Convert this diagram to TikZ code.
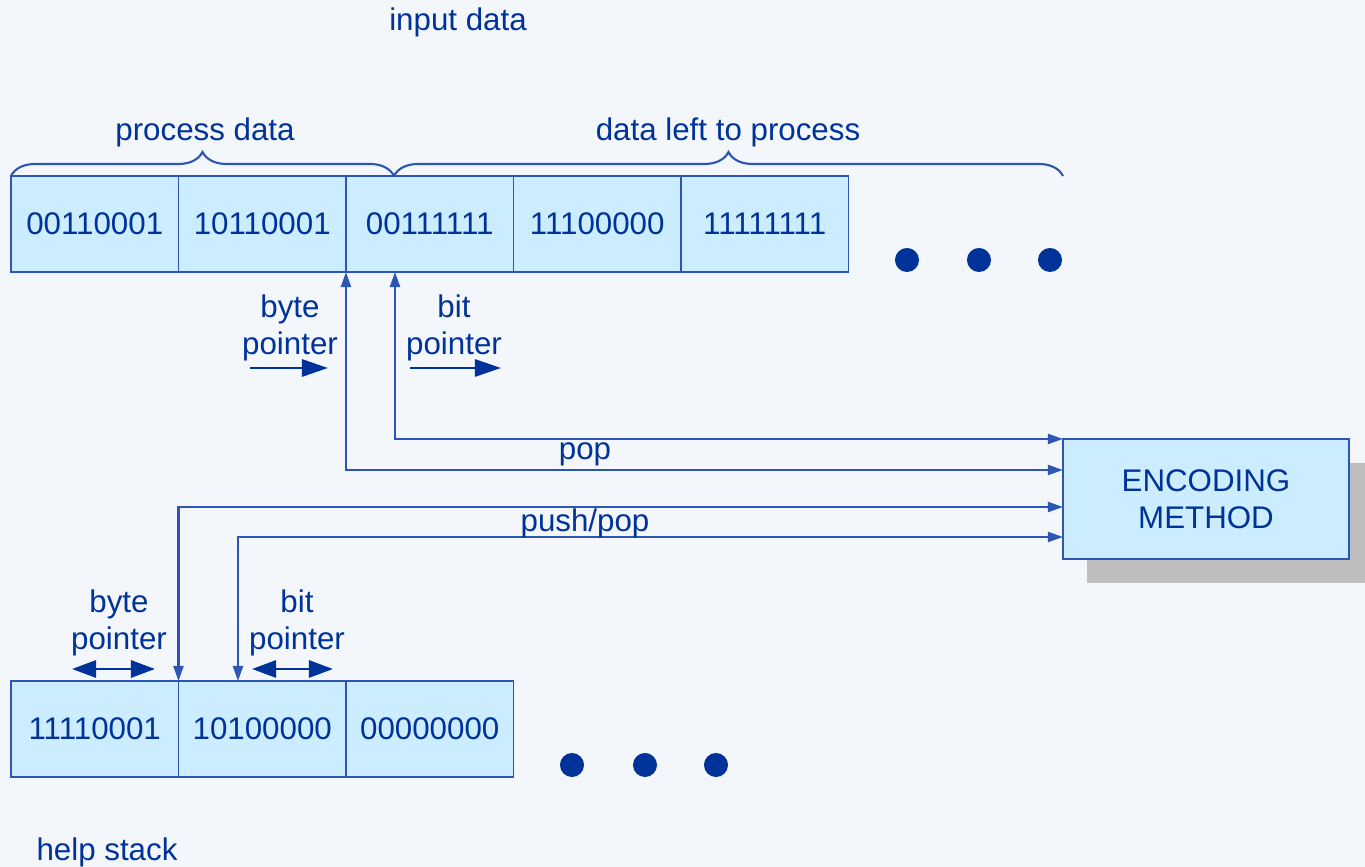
\documentclass[tikz,border=0pt]{standalone}
\usepackage{fontspec}
\setmainfont{Liberation Sans}
\usetikzlibrary{positioning,arrows.meta,decorations.pathreplacing,shadows}

\definecolor{inkblue}{RGB}{0,51,153}
\definecolor{cellblue}{RGB}{204,236,255}
\definecolor{lineblue}{RGB}{45,85,180}
\definecolor{paper}{RGB}{243,246,250}
\definecolor{shadowgray}{RGB}{190,190,190}

\begin{document}
\begin{tikzpicture}[
        x=0.01cm, y=-0.01cm,
        font=\fontsize{8.9}{10.6}\selectfont,
        text=inkblue,
        cell/.style={
            draw=lineblue, fill=cellblue,
            minimum width=1.674cm, minimum height=0.96cm,
            inner sep=0pt, outer sep=0pt
        },
        enc box/.style={
            draw=lineblue, fill=cellblue, align=center,
            minimum width=2.86cm, minimum height=1.2cm,
            inner sep=0pt, outer sep=0pt,
            drop shadow={shadow xshift=0.24cm, shadow yshift=-0.24cm,
                fill=shadowgray, opacity=1}
        },
        caption/.style={align=center, inner sep=0pt},
        dot/.style={circle, fill=inkblue, minimum size=0.24cm, inner sep=0pt},
        brace/.style={draw=lineblue, line width=0.6pt,
            decorate, decoration={brace, amplitude=0.24cm}},
        wire/.style={draw=lineblue, line width=0.6pt,
            {Triangle[length=0.15cm,width=0.1cm]}-{Triangle[length=0.15cm,width=0.1cm]}},
        move/.style={draw=inkblue, line width=0.8pt,
            -{Triangle[length=0.26cm,width=0.17cm]}},
        move both/.style={draw=inkblue, line width=0.8pt,
            {Triangle[length=0.24cm,width=0.17cm]}-{Triangle[length=0.24cm,width=0.17cm]}}
    ]

    \fill[paper] (0,0) rectangle (1365,867);
    \useasboundingbox (0,0) rectangle (1365,867);

    \node[caption] (input) at (458,22) {input data};

    \node[cell, anchor=north west] (in1) at (11,176) {00110001};
    \node[cell, right=0pt of in1] (in2) {10110001};
    \node[cell, right=0pt of in2] (in3) {00111111};
    \node[cell, right=0pt of in3] (in4) {11100000};
    \node[cell, right=0pt of in4] (in5) {11111111};

    \foreach \x [count=\i] in {907,979,1050}
        \node[dot] (indot\i) at (\x,260) {};

    \coordinate (split) at (394,176);
    \coordinate (restend) at (1063,176);
    \draw[brace] (in1.north west) -- (split);
    \draw[brace] (split) -- (restend);
    \node[caption] (done) at (205,132) {process data};
    \node[caption] (rest) at (728,132) {data left to process};

    \node[enc box] (enc) at (1206,499) {ENCODING\\METHOD};

    \coordinate (bitup) at (395,272);
    \draw[wire] (in3.south west) |- (enc.west |- 0,470);
    \draw[wire] (bitup) |- (enc.north west);
    \node[caption] (pop) at (585,454) {pop};

    \node[caption] (topbyte) at (290,328) {byte\\pointer};
    \node[caption] (topbit) at (454,328) {bit\\pointer};
    \coordinate (tb1) at (250,368);
    \coordinate (tb2) at (328,368);
    \coordinate (tt1) at (410,368);
    \coordinate (tt2) at (501,368);
    \draw[move] (tb1) -- (tb2);
    \draw[move] (tt1) -- (tt2);

    \node[cell, anchor=north west] (st1) at (11,681) {11110001};
    \node[cell, right=0pt of st1] (st2) {10100000};
    \node[cell, right=0pt of st2] (st3) {00000000};

    \foreach \x [count=\i] in {572,645,716}
        \node[dot] (stdot\i) at (\x,765) {};

    \coordinate (bitdown) at (238,681);
    \draw[wire] (st2.north west) |- (enc.west |- 0,507);
    \draw[wire] (bitdown) |- (enc.west |- 0,537);
    \node[caption] (pushpop) at (585,523) {push/pop};

    \node[caption] (botbyte) at (119,623) {byte\\pointer};
    \node[caption] (botbit) at (297,623) {bit\\pointer};
    \coordinate (bb1) at (72,669);
    \coordinate (bb2) at (155,669);
    \coordinate (bt1) at (252,669);
    \coordinate (bt2) at (333,669);
    \draw[move both] (bb1) -- (bb2);
    \draw[move both] (bt1) -- (bt2);

    \node[caption] (help) at (107,852) {help stack};
\end{tikzpicture}
\end{document}
